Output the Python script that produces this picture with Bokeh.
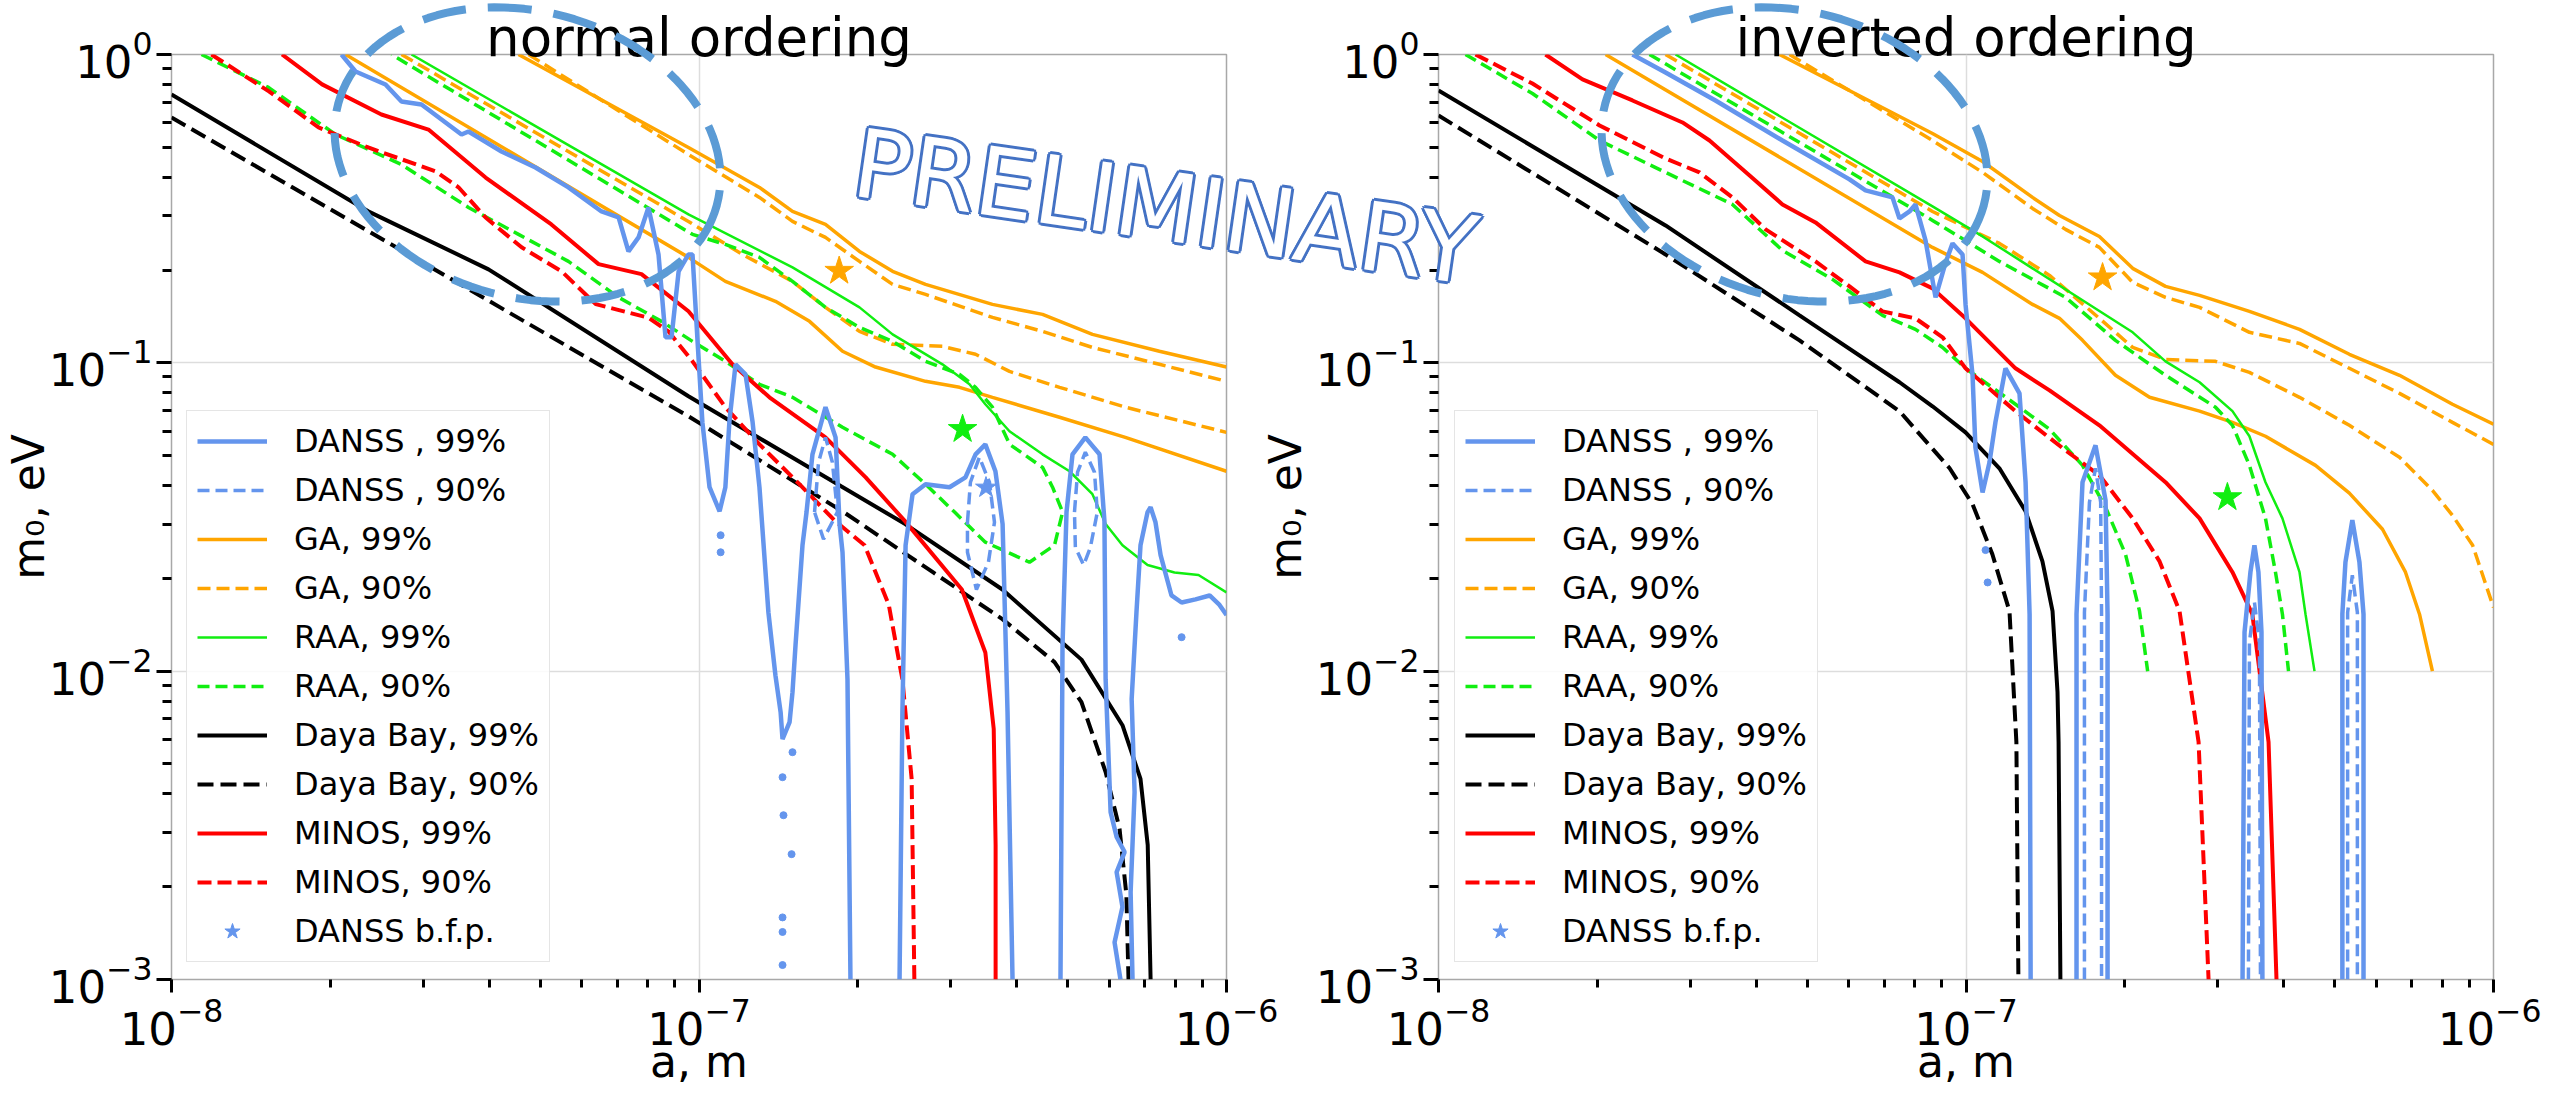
import math
from bokeh.plotting import figure
from bokeh.models import Range1d, FixedTicker, Label, PolyAnnotation, Legend, LegendItem
from bokeh.layouts import row, column
from bokeh.embed import file_html
from bokeh.resources import INLINE

# ------------------------------------------------------------------ data
# ---- normal ordering (left panel); a in m, m0 in eV
NO_DB99_a = [1.0e-8, 2.36e-8, 3.99e-8, 9.55e-8, 2.46e-7, 3.76e-7, 5.31e-7, 6.35e-7, 6.87e-7, 7.09e-7, 7.18e-7]
NO_DB99_m = [0.742, 0.310, 0.201, 0.0779, 0.0300, 0.0184, 0.0109, 0.00668, 0.00447, 0.00273, 0.001]
NO_DB90_a = [1.0e-8, 9.55e-8, 1.88e-7, 2.78e-7, 3.76e-7, 4.72e-7, 5.31e-7, 5.90e-7, 6.27e-7, 6.46e-7, 6.52e-7]
NO_DB90_m = [0.625, 0.0671, 0.0328, 0.0209, 0.01475, 0.0107, 0.00793, 0.00471, 0.00308, 0.00188, 0.001]
NO_MINOS99_a = [1.62e-8, 1.93e-8, 2.50e-8, 3.07e-8, 3.94e-8, 5.25e-8, 6.45e-8, 7.78e-8, 9.55e-8, 1.157e-7,
                1.36e-7, 1.737e-7, 2.07e-7, 2.46e-7, 3.15e-7, 3.49e-7, 3.62e-7, 3.65e-7, 3.65e-7]
NO_MINOS99_m = [1.0, 0.80, 0.639, 0.571, 0.399, 0.281, 0.209, 0.194, 0.147, 0.0989,
                0.0773, 0.0573, 0.0425, 0.0306, 0.0184, 0.0115, 0.0065, 0.00273, 0.001]
NO_MINOS90_a = [1.19e-8, 1.53e-8, 1.90e-8, 2.36e-8, 3.17e-8, 3.50e-8, 3.94e-8, 4.61e-8, 5.49e-8, 6.37e-8, 8.02e-8,
                8.75e-8, 9.72e-8, 1.122e-7, 1.302e-7, 1.55e-7, 1.815e-7, 2.06e-7, 2.29e-7, 2.43e-7, 2.53e-7, 2.56e-7]
NO_MINOS90_m = [1.0, 0.759, 0.580, 0.4995, 0.4175, 0.371, 0.296, 0.237, 0.198, 0.155, 0.140,
                0.1265, 0.1011, 0.0718, 0.0544, 0.0404, 0.0306, 0.0256, 0.0164, 0.0094, 0.00447, 0.001]
NO_RAA99_a = [2.851e-8, 9.55e-8, 1.504e-7, 2.015e-7, 2.328e-7, 2.894e-7, 3.257e-7, 3.49e-7, 3.878e-7, 4.48e-7,
              5.04e-7, 5.57e-7, 5.90e-7, 6.35e-7, 7.085e-7, 7.97e-7, 8.85e-7, 1.0e-6]
NO_RAA99_m = [1.0, 0.3029, 0.204, 0.1513, 0.1237, 0.0989, 0.0852, 0.0734, 0.060, 0.0505,
              0.0445, 0.0375, 0.0300, 0.0256, 0.0221, 0.0209, 0.0205, 0.0180]
NO_RAA90_a = [1.14e-8, 1.527e-8, 2.047e-8, 2.729e-8, 3.656e-8, 4.548e-8, 5.656e-8, 7.04e-8, 8.49e-8, 9.72e-8,
              1.122e-7, 1.302e-7, 1.504e-7, 1.871e-7, 2.328e-7, 2.688e-7, 3.051e-7, 3.49e-7, 4.232e-7, 4.72e-7,
              4.89e-7, 4.68e-7, 4.48e-7, 3.88e-7, 3.60e-7, 3.344e-7, 3.118e-7, 2.688e-7, 2.328e-7, 2.015e-7,
              1.737e-7, 1.504e-7, 1.302e-7, 1.122e-7, 9.72e-8, 2.613e-8]
NO_RAA90_m = [1.0, 0.782, 0.550, 0.4398, 0.319, 0.261, 0.2133, 0.1631, 0.1363, 0.1174,
              0.1011, 0.0852, 0.0773, 0.0618, 0.0505, 0.0404, 0.0328, 0.0262, 0.02256, 0.0256,
              0.0328, 0.0395, 0.0458, 0.0544, 0.0718, 0.0833, 0.0918, 0.1011, 0.1174, 0.1303,
              0.1513, 0.1837, 0.2198, 0.2421, 0.261, 1.0]
NO_GA99_lo_a = [2.138e-8, 9.55e-8, 1.122e-7, 1.396e-7, 1.62e-7, 1.871e-7, 2.161e-7, 2.688e-7, 3.118e-7, 3.60e-7,
                4.825e-7, 6.43e-7, 1.0e-6]
NO_GA99_lo_m = [1.0, 0.2198, 0.1837, 0.1583, 0.1363, 0.109, 0.0969, 0.0871, 0.0833, 0.0773, 0.0666, 0.0573, 0.0445]
NO_GA90_lo_a = [2.729e-8, 9.55e-8, 1.209e-7, 1.504e-7, 1.737e-7, 2.015e-7, 2.328e-7, 2.894e-7, 3.344e-7, 3.878e-7,
                4.825e-7, 6.43e-7, 1.0e-6]
NO_GA90_lo_m = [1.0, 0.2875, 0.2247, 0.1837, 0.1513, 0.1265, 0.1148, 0.1131, 0.1066, 0.0938, 0.0833, 0.0718, 0.0595]
NO_GA99_hi_a = [4.548e-8, 9.55e-8, 1.302e-7, 1.504e-7, 1.737e-7, 2.015e-7, 2.328e-7, 2.688e-7, 3.60e-7, 4.48e-7,
                5.57e-7, 7.46e-7, 1.0e-6]
NO_GA99_hi_m = [1.0, 0.4995, 0.3706, 0.3097, 0.2812, 0.2298, 0.198, 0.1797, 0.1547, 0.1436, 0.1237, 0.109, 0.0969]
NO_GA90_hi_a = [4.751e-8, 9.55e-8, 1.302e-7, 1.504e-7, 1.737e-7, 2.015e-7, 2.328e-7, 2.688e-7, 3.60e-7, 4.48e-7,
                5.57e-7, 7.46e-7, 1.0e-6]
NO_GA90_hi_m = [1.0, 0.474, 0.344, 0.2875, 0.2551, 0.2133, 0.1797, 0.1667, 0.1404, 0.1265, 0.1122, 0.0989, 0.0871]
# DANSS 99% contour pieces
NO_D99_p1_a = [2.10e-8, 2.233e-8, 2.545e-8, 2.729e-8, 2.978e-8, 3.547e-8, 3.656e-8, 4.223e-8, 4.898e-8, 5.656e-8,
               6.535e-8, 7.04e-8, 7.35e-8, 7.68e-8, 8.02e-8, 8.38e-8, 8.64e-8, 8.87e-8, 9.15e-8, 9.55e-8,
               9.72e-8, 9.94e-8, 1.015e-7, 1.047e-7, 1.094e-7, 1.122e-7, 1.142e-7, 1.173e-7, 1.225e-7, 1.263e-7,
               1.302e-7, 1.354e-7, 1.396e-7, 1.428e-7, 1.44e-7, 1.485e-7, 1.504e-7, 1.524e-7, 1.571e-7, 1.599e-7,
               1.641e-7, 1.737e-7, 1.815e-7, 1.847e-7, 1.871e-7, 1.912e-7, 1.937e-7]
NO_D99_p1_m = [1.0, 0.881, 0.7995, 0.704, 0.6887, 0.550, 0.5627, 0.4848, 0.4302, 0.3706,
               0.3097, 0.2962, 0.2298, 0.2551, 0.3191, 0.2247, 0.121, 0.121, 0.198, 0.2247,
               0.2247, 0.1165, 0.0641, 0.0395, 0.033, 0.0395, 0.0646, 0.0989, 0.0918, 0.0646,
               0.0395, 0.0155, 0.0097, 0.00736, 0.00602, 0.00684, 0.00855, 0.01214, 0.0256, 0.0328,
               0.0505, 0.0718, 0.0573, 0.0300, 0.0243, 0.00942, 0.001]
NO_D99_p2_a = [2.40e-7, 2.43e-7, 2.464e-7, 2.54e-7, 2.688e-7, 2.985e-7, 3.2e-7, 3.344e-7, 3.49e-7, 3.647e-7,
               3.763e-7, 3.845e-7, 3.93e-7]
NO_D99_p2_m = [0.001, 0.00736, 0.0256, 0.0375, 0.0404, 0.0395, 0.0425, 0.0505, 0.0544, 0.0445, 0.0300, 0.00736, 0.001]
NO_D99_p3_a = [4.845e-7, 4.888e-7, 4.974e-7, 5.106e-7, 5.40e-7, 5.745e-7, 5.87e-7, 5.90e-7, 6.03e-7, 6.19e-7,
               6.41e-7, 6.19e-7, 6.35e-7, 6.135e-7, 6.295e-7]
NO_D99_p3_m = [0.001, 0.01214, 0.0328, 0.0505, 0.0573, 0.0505, 0.0306, 0.00942, 0.00349, 0.0029,
               0.00259, 0.00223, 0.00172, 0.00132, 0.001]
NO_D99_p4_a = [6.635e-7, 6.58e-7, 6.695e-7, 6.61e-7, 6.75e-7, 6.87e-7, 7.085e-7, 7.18e-7, 7.335e-7, 7.50e-7,
               7.865e-7, 8.22e-7, 8.735e-7, 9.29e-7, 9.70e-7, 1.0e-6]
NO_D99_p4_m = [0.001, 0.00192, 0.00405, 0.00811, 0.0155, 0.0256, 0.0328, 0.034, 0.0304, 0.0238,
               0.0176, 0.0167, 0.0171, 0.0176, 0.0164, 0.0152]
# DANSS 90% contour lobes
NO_D90_A_a = [1.656e-7, 1.685e-7, 1.737e-7, 1.79e-7, 1.83e-7, 1.722e-7, 1.656e-7]
NO_D90_A_m = [0.0328, 0.0476, 0.0573, 0.0476, 0.0328, 0.0268, 0.0328]
NO_D90_B_a = [3.228e-7, 3.27e-7, 3.40e-7, 3.553e-7, 3.632e-7, 3.538e-7, 3.357e-7, 3.228e-7, 3.228e-7]
NO_D90_B_m = [0.0304, 0.041, 0.0494, 0.041, 0.0304, 0.0226, 0.0184, 0.0243, 0.0304]
NO_D90_C_a = [5.15e-7, 5.22e-7, 5.40e-7, 5.62e-7, 5.69e-7, 5.52e-7, 5.36e-7, 5.17e-7, 5.15e-7]
NO_D90_C_m = [0.0328, 0.0442, 0.0513, 0.0442, 0.0328, 0.0252, 0.0221, 0.0252, 0.0328]
# small DANSS islands
NO_isl_a = [1.099e-7, 1.099e-7, 1.504e-7, 1.44e-7, 1.446e-7, 1.498e-7, 1.44e-7, 1.44e-7, 1.44e-7, 8.22e-7]
NO_isl_m = [0.0276, 0.0243, 0.00546, 0.00453, 0.00341, 0.00255, 0.00159, 0.001426, 0.001114, 0.01289]
# best-fit points (GA, RAA) and DANSS best fit
NO_bfp_a = [1.844e-7, 3.16e-7]
NO_bfp_m = [0.1985, 0.0609]
NO_danss_bfp_a = [3.50e-7]
NO_danss_bfp_m = [0.0394]

# ---- inverted ordering (right panel)
IO_DB99_a = [1.0e-8, 2.694e-8, 4.835e-8, 7.48e-8, 8.64e-8, 9.98e-8, 1.157e-7, 1.297e-7, 1.396e-7, 1.459e-7,
             1.491e-7, 1.498e-7, 1.51e-7]
IO_DB99_m = [0.764, 0.279, 0.1426, 0.0865, 0.0723, 0.0595, 0.0455, 0.033, 0.0227, 0.01565, 0.00855, 0.00589, 0.001]
IO_DB90_a = [1.0e-8, 2.694e-8, 4.835e-8, 7.48e-8, 9.31e-8, 1.029e-7, 1.122e-7, 1.209e-7, 1.246e-7, 1.257e-7]
IO_DB90_m = [0.634, 0.2247, 0.1183, 0.0697, 0.0455, 0.0348, 0.02394, 0.01565, 0.00589, 0.001]
IO_MINOS99_a = [1.595e-8, 1.875e-8, 2.332e-8, 2.901e-8, 3.264e-8, 3.888e-8, 4.488e-8, 5.184e-8, 6.45e-8, 7.48e-8,
                8.64e-8, 9.98e-8, 1.241e-7, 1.44e-7, 1.79e-7, 2.389e-7, 2.772e-7, 3.2e-7, 3.49e-7, 3.746e-7, 3.878e-7]
IO_MINOS99_m = [1.0, 0.830, 0.7095, 0.602, 0.526, 0.4053, 0.3264, 0.2853, 0.2133, 0.1965,
                0.1744, 0.1394, 0.096, 0.0814, 0.0627, 0.041, 0.0313, 0.02094, 0.0153, 0.00589, 0.001]
IO_MINOS90_a = [1.175e-8, 1.507e-8, 2.02e-8, 2.694e-8, 3.124e-8, 3.608e-8, 4.169e-8, 5.184e-8, 6.014e-8, 6.946e-8,
                8.02e-8, 9.03e-8, 9.98e-8, 1.241e-7, 1.544e-7, 1.79e-7, 2.07e-7, 2.328e-7, 2.54e-7, 2.76e-7, 2.883e-7]
IO_MINOS90_m = [1.0, 0.805, 0.5886, 0.46, 0.4146, 0.344, 0.2709, 0.2133, 0.177, 0.1469,
                0.1394, 0.121, 0.096, 0.0697, 0.052, 0.0432, 0.0313, 0.0227, 0.01565, 0.00589, 0.001]
IO_RAA99_a = [2.814e-8, 8.64e-8, 1.075e-7, 1.337e-7, 1.663e-7, 2.07e-7, 2.389e-7, 2.772e-7, 3.2e-7, 3.446e-7,
              3.696e-7, 3.98e-7, 4.288e-7, 4.402e-7, 4.578e-7]
IO_RAA99_m = [1.0, 0.3216, 0.257, 0.2025, 0.1595, 0.1256, 0.1011, 0.0865, 0.0697, 0.0578,
              0.041, 0.0313, 0.02094, 0.0153, 0.01]
IO_RAA90_lo_a = [1.125e-8, 1.507e-8, 2.02e-8, 2.694e-8, 3.608e-8, 4.488e-8, 5.584e-8, 6.946e-8, 8.02e-8, 9.03e-8,
                 9.98e-8, 1.241e-7, 1.44e-7, 1.663e-7, 1.839e-7, 2.006e-7, 2.133e-7, 2.21e-7]
IO_RAA90_lo_m = [1.0, 0.7475, 0.526, 0.4146, 0.3264, 0.2315, 0.1865, 0.1426, 0.1284, 0.1122,
                 0.096, 0.0734, 0.0609, 0.0465, 0.034, 0.02394, 0.01565, 0.01]
IO_RAA90_hi_a = [2.512e-8, 8.64e-8, 1.157e-7, 1.544e-7, 1.92e-7, 2.389e-7, 2.972e-7, 3.2e-7, 3.446e-7, 3.696e-7,
                 3.861e-7, 3.98e-7, 4.087e-7]
IO_RAA90_hi_m = [1.0, 0.2897, 0.2133, 0.1631, 0.1183, 0.0911, 0.0718, 0.0627, 0.0465, 0.0313, 0.02094, 0.0153, 0.01]
IO_GA99_lo_a = [2.074e-8, 8.64e-8, 1.075e-7, 1.337e-7, 1.504e-7, 1.663e-7, 1.92e-7, 2.228e-7, 2.772e-7, 3.2e-7,
                3.696e-7, 4.598e-7, 5.33e-7, 6.16e-7, 6.81e-7, 7.24e-7, 7.66e-7]
IO_GA99_lo_m = [1.0, 0.2368, 0.1965, 0.1547, 0.1394, 0.1183, 0.0911, 0.0773, 0.0697, 0.0641,
                0.0578, 0.0465, 0.0378, 0.02886, 0.02094, 0.0153, 0.01]
IO_GA90_lo_a = [2.694e-8, 8.64e-8, 1.157e-7, 1.44e-7, 1.79e-7, 2.07e-7, 2.389e-7, 2.972e-7, 3.446e-7, 4.288e-7,
                5.33e-7, 6.635e-7, 7.66e-7, 8.36e-7, 9.13e-7, 1.0e-6]
IO_GA90_lo_m = [1.0, 0.3097, 0.244, 0.1921, 0.1394, 0.1122, 0.1026, 0.1011, 0.0931, 0.0773,
                0.0627, 0.0494, 0.0386, 0.032, 0.0256, 0.0161]
IO_GA99_hi_a = [4.43e-8, 8.64e-8, 1.075e-7, 1.337e-7, 1.504e-7, 1.79e-7, 2.07e-7, 2.389e-7, 2.772e-7, 3.446e-7,
                4.288e-7, 5.33e-7, 6.635e-7, 8.36e-7, 1.0e-6]
IO_GA99_hi_m = [1.0, 0.5546, 0.4498, 0.344, 0.3006, 0.257, 0.2025, 0.177, 0.1655, 0.1469,
                0.1284, 0.1066, 0.0911, 0.0734, 0.0632]
IO_GA90_hi_a = [4.628e-8, 8.64e-8, 1.075e-7, 1.337e-7, 1.544e-7, 1.79e-7, 2.07e-7, 2.389e-7, 2.772e-7, 3.446e-7,
                4.288e-7, 5.33e-7, 6.635e-7, 8.36e-7, 1.0e-6]
IO_GA90_hi_m = [1.0, 0.526, 0.4146, 0.3168, 0.2709, 0.2368, 0.1824, 0.1631, 0.1513, 0.1256,
                0.1156, 0.096, 0.0796, 0.0641, 0.0544]
IO_D99_p1_a = [2.332e-8, 2.694e-8, 3.35e-8, 4.488e-8, 6.014e-8, 6.45e-8, 7.255e-8, 7.48e-8, 7.815e-8, 8.02e-8,
               8.38e-8, 8.755e-8, 9.15e-8, 9.43e-8, 9.85e-8, 9.98e-8, 1.029e-7, 1.042e-7, 1.075e-7, 1.108e-7,
               1.137e-7, 1.188e-7, 1.263e-7, 1.297e-7, 1.32e-7, 1.326e-7]
IO_D99_p1_m = [1.0, 0.874, 0.7095, 0.526, 0.3934, 0.3624, 0.344, 0.294, 0.3097, 0.3264,
               0.2495, 0.1631, 0.2117, 0.244, 0.2247, 0.1547, 0.0911, 0.0532, 0.038, 0.0476,
               0.0641, 0.096, 0.0796, 0.041, 0.0153, 0.001]
IO_D99_l2_a = [1.62e-7, 1.62e-7, 1.663e-7, 1.76e-7, 1.839e-7, 1.855e-7, 1.855e-7]
IO_D99_l2_m = [0.001, 0.0153, 0.041, 0.054, 0.0358, 0.0153, 0.001]
IO_D99_l3_a = [3.344e-7, 3.373e-7, 3.461e-7, 3.522e-7, 3.584e-7, 3.632e-7, 3.647e-7]
IO_D99_l3_m = [0.001, 0.01338, 0.02094, 0.0256, 0.02094, 0.01338, 0.001]
IO_D99_l4_a = [5.17e-7, 5.17e-7, 5.24e-7, 5.40e-7, 5.57e-7, 5.67e-7, 5.67e-7]
IO_D99_l4_m = [0.001, 0.0153, 0.02256, 0.0309, 0.02256, 0.0153, 0.001]
IO_D90_l2_a = [1.677e-7, 1.677e-7, 1.714e-7, 1.76e-7, 1.80e-7, 1.807e-7, 1.807e-7]
IO_D90_l2_m = [0.001, 0.0155, 0.0353, 0.0455, 0.0353, 0.0155, 0.001]
IO_D90_l3_a = [3.431e-7, 3.446e-7, 3.522e-7, 3.60e-7, 3.616e-7]
IO_D90_l3_m = [0.001, 0.0124, 0.01674, 0.0124, 0.001]
IO_D90_l4_a = [5.29e-7, 5.29e-7, 5.40e-7, 5.52e-7, 5.52e-7]
IO_D90_l4_m = [0.001, 0.0155, 0.02047, 0.0155, 0.001]
IO_isl_a = [1.089e-7, 1.099e-7]
IO_isl_m = [0.0247, 0.0194]
IO_bfp_a = [1.815e-7, 3.13e-7]
IO_bfp_m = [0.189, 0.0366]
# DANSS best fit for this ordering lies below the plotted m0 range (not visible)
IO_danss_bfp_a = [5.4e-7]
IO_danss_bfp_m = [5.0e-4]

LEGEND_LABELS = ["DANSS , 99%", "DANSS , 90%", "GA, 99%", "GA, 90%", "RAA, 99%", "RAA, 90%",
                 "Daya Bay, 99%", "Daya Bay, 90%", "MINOS, 99%", "MINOS, 90%", "DANSS b.f.p."]
TITLES = ["normal ordering", "inverted ordering"]
X_LABEL = "a, m"
Y_LABEL = "m\u2080, eV"
STAMP = "PRELIMINARY"
X_MAJOR = [1e-8, 1e-7, 1e-6]
X_MINOR = [k * 10.0 ** e for e in (-8, -7) for k in range(2, 10)]
Y_MAJOR = [1e-3, 1e-2, 1e-1, 1.0]
Y_MINOR = [k * 10.0 ** e for e in (-3, -2, -1) for k in range(2, 10)]

# ------------------------------------------------------------------ style / layout
C_DANSS = "#6495ED"
C_GA = "#FFA500"
C_RAA = "#11EE11"
C_MINOS = "#FF0000"
C_DB = "#000000"
C_ELL = "#5B9BD5"
C_PRELIM = "#4472C4"
FONT = "DejaVu Sans"

FRAME_W, FRAME_H = 1055, 925
FIG_H = 1087               # page: 8 .. 1095 (layout pulled up by 8px so no scrollbar appears)
B_TOP = 54
B_BOTTOM = FIG_H - B_TOP - FRAME_H
W1, BL1 = 1279, 171
W2, BL2 = 1262, 159
FL1 = BL1                 # frame left, in canvas px of the overlay
FL2 = W1 + BL2
FRAME_CX = [FL1 + FRAME_W / 2, FL2 + FRAME_W / 2]


def make_fig(width, bl, br):
    p = figure(width=width, height=FIG_H, x_axis_type="log", y_axis_type="log",
               x_range=Range1d(1e-8, 1e-6), y_range=Range1d(1e-3, 1.0),
               output_backend="svg", toolbar_location=None,
               min_border_left=bl, min_border_right=br,
               min_border_top=B_TOP, min_border_bottom=B_BOTTOM)
    p.background_fill_color = "white"
    p.border_fill_color = "white"
    p.outline_line_color = "#a8a8a8"
    p.outline_line_width = 1.5
    xt = FixedTicker(ticks=X_MAJOR, minor_ticks=X_MINOR)
    yt = FixedTicker(ticks=Y_MAJOR, minor_ticks=Y_MINOR)
    p.xaxis.ticker = xt
    p.yaxis.ticker = yt
    p.xgrid.ticker = xt
    p.ygrid.ticker = yt
    p.grid.grid_line_color = "#dddddd"
    p.grid.grid_line_width = 1.5
    for ax in (p.xaxis[0], p.yaxis[0]):
        ax.axis_line_color = None
        ax.major_tick_line_width = 3
        ax.minor_tick_line_width = 3
        ax.major_tick_in = 0
        ax.minor_tick_in = 0
        ax.major_label_text_font = FONT
        ax.major_label_text_font_size = "45px"
        ax.major_label_text_color = "black"
    p.xaxis.major_tick_out = 13
    p.xaxis.minor_tick_out = 8
    p.yaxis.major_tick_out = 15
    p.yaxis.minor_tick_out = 9
    p.xaxis.major_label_standoff = 5
    p.yaxis.major_label_standoff = 4
    return p


def ln(p, a, m, color, width, dash="solid"):
    return p.line(a, m, line_color=color, line_width=width, line_dash=dash)


def legend(p, rs, loc):
    items = [LegendItem(label=lab, renderers=[r]) for lab, r in zip(LEGEND_LABELS, rs)]
    lg = Legend(items=items, location=loc, label_text_font=FONT, label_text_font_size="32px",
                label_text_color="black",
                glyph_width=70, glyph_height=40, label_height=40, spacing=9, padding=10, margin=0,
                label_standoff=27, border_line_color="#cccccc", border_line_width=1.5,
                background_fill_color="white", background_fill_alpha=0.85)
    p.add_layout(lg)


# ------------------------------------------------------------------ left panel
p1 = make_fig(W1, BL1, W1 - BL1 - FRAME_W)
r_ga99 = ln(p1, NO_GA99_lo_a, NO_GA99_lo_m, C_GA, 3.5)
ln(p1, NO_GA99_hi_a, NO_GA99_hi_m, C_GA, 3.5)
r_ga90 = ln(p1, NO_GA90_lo_a, NO_GA90_lo_m, C_GA, 3.5, "13 6")
ln(p1, NO_GA90_hi_a, NO_GA90_hi_m, C_GA, 3.5, "13 6")
r_raa99 = ln(p1, NO_RAA99_a, NO_RAA99_m, C_RAA, 2.5)
r_raa90 = ln(p1, NO_RAA90_a, NO_RAA90_m, C_RAA, 3.5, "12 6")
r_db99 = ln(p1, NO_DB99_a, NO_DB99_m, C_DB, 4)
r_db90 = ln(p1, NO_DB90_a, NO_DB90_m, C_DB, 4, "16 7")
r_mi99 = ln(p1, NO_MINOS99_a, NO_MINOS99_m, C_MINOS, 4)
r_mi90 = ln(p1, NO_MINOS90_a, NO_MINOS90_m, C_MINOS, 4, "14 6")
r_d99 = ln(p1, NO_D99_p1_a, NO_D99_p1_m, C_DANSS, 4.5)
for a_, m_ in ((NO_D99_p2_a, NO_D99_p2_m), (NO_D99_p3_a, NO_D99_p3_m), (NO_D99_p4_a, NO_D99_p4_m)):
    ln(p1, a_, m_, C_DANSS, 4.5)
r_d90 = ln(p1, NO_D90_A_a, NO_D90_A_m, C_DANSS, 3.5, "12 6")
for a_, m_ in ((NO_D90_B_a, NO_D90_B_m), (NO_D90_C_a, NO_D90_C_m)):
    ln(p1, a_, m_, C_DANSS, 3.5, "12 6")
p1.scatter(NO_isl_a, NO_isl_m, marker="circle", size=7, fill_color=C_DANSS, line_color=C_DANSS)
p1.scatter(NO_bfp_a, NO_bfp_m, marker="star", size=30, fill_color=[C_GA, C_RAA], line_color=[C_GA, C_RAA])
r_bfp1 = p1.scatter(NO_danss_bfp_a, NO_danss_bfp_m, marker="star", size=22,
                    fill_color=C_DANSS, line_color=C_DANSS)
legend(p1, [r_d99, r_d90, r_ga99, r_ga90, r_raa99, r_raa90, r_db99, r_db90, r_mi99, r_mi90, r_bfp1], (15, 17))

# ------------------------------------------------------------------ right panel
p2 = make_fig(W2, BL2, W2 - BL2 - FRAME_W)
q_ga99 = ln(p2, IO_GA99_lo_a, IO_GA99_lo_m, C_GA, 3.5)
ln(p2, IO_GA99_hi_a, IO_GA99_hi_m, C_GA, 3.5)
q_ga90 = ln(p2, IO_GA90_lo_a, IO_GA90_lo_m, C_GA, 3.5, "13 6")
ln(p2, IO_GA90_hi_a, IO_GA90_hi_m, C_GA, 3.5, "13 6")
q_raa99 = ln(p2, IO_RAA99_a, IO_RAA99_m, C_RAA, 2.5)
q_raa90 = ln(p2, IO_RAA90_lo_a, IO_RAA90_lo_m, C_RAA, 3.5, "12 6")
ln(p2, IO_RAA90_hi_a, IO_RAA90_hi_m, C_RAA, 3.5, "12 6")
q_db99 = ln(p2, IO_DB99_a, IO_DB99_m, C_DB, 4)
q_db90 = ln(p2, IO_DB90_a, IO_DB90_m, C_DB, 4, "16 7")
q_mi99 = ln(p2, IO_MINOS99_a, IO_MINOS99_m, C_MINOS, 4)
q_mi90 = ln(p2, IO_MINOS90_a, IO_MINOS90_m, C_MINOS, 4, "14 6")
q_d99 = ln(p2, IO_D99_p1_a, IO_D99_p1_m, C_DANSS, 4.5)
for a_, m_ in ((IO_D99_l2_a, IO_D99_l2_m), (IO_D99_l3_a, IO_D99_l3_m), (IO_D99_l4_a, IO_D99_l4_m)):
    ln(p2, a_, m_, C_DANSS, 4.5)
q_d90 = ln(p2, IO_D90_l2_a, IO_D90_l2_m, C_DANSS, 3.5, "12 6")
for a_, m_ in ((IO_D90_l3_a, IO_D90_l3_m), (IO_D90_l4_a, IO_D90_l4_m)):
    ln(p2, a_, m_, C_DANSS, 3.5, "12 6")
p2.scatter(IO_isl_a, IO_isl_m, marker="circle", size=7, fill_color=C_DANSS, line_color=C_DANSS)
p2.scatter(IO_bfp_a, IO_bfp_m, marker="star", size=30, fill_color=[C_GA, C_RAA], line_color=[C_GA, C_RAA])
q_bfp = p2.scatter(IO_danss_bfp_a, IO_danss_bfp_m, marker="star", size=22,
                   fill_color=C_DANSS, line_color=C_DANSS)
legend(p2, [q_d99, q_d90, q_ga99, q_ga90, q_raa99, q_raa90, q_db99, q_db90, q_mi99, q_mi90, q_bfp], (16, 17))

# ------------------------------------------------------------------ overlay (titles, axis titles, stamp)
OV_W = W1 + W2
ov = figure(width=OV_W, height=FIG_H, x_range=Range1d(0, OV_W), y_range=Range1d(FIG_H, 0),
            x_axis_type=None, y_axis_type=None, output_backend="svg", toolbar_location=None,
            min_border=0)
ov.outline_line_color = None
ov.background_fill_color = None
ov.border_fill_color = None
ov.styles = {"margin-top": "-%dpx" % FIG_H}

for cx, title in zip(FRAME_CX, TITLES):
    ov.add_layout(Label(x=cx, y=B_TOP - 17, text=title, text_font=FONT, text_font_size="53px",
                        text_align="center", text_baseline="alphabetic", text_color="black"))
    ov.add_layout(Label(x=cx, y=FIG_H - 26, text=X_LABEL, text_font=FONT, text_font_size="44px",
                        text_align="center", text_baseline="alphabetic", text_color="black"))
for yx in (28, W1 + 6):
    ov.add_layout(Label(x=yx, y=B_TOP + FRAME_H / 2 - 10, text=Y_LABEL, text_font=FONT,
                        text_font_size="44px", angle=math.pi / 2, text_align="center",
                        text_baseline="middle", text_color="black"))

# dashed ellipses highlighting the upper-left region of each panel
for fl in (FL1, FL2):
    cx, cy = fl + 356, 154
    A, B, phi = 196.0, 143.0, math.radians(15)
    xs, ys = [], []
    for i in range(121):
        t = 2 * math.pi * i / 120
        x0, y0 = A * math.cos(t), B * math.sin(t)
        xs.append(cx + x0 * math.cos(phi) - y0 * math.sin(phi))
        ys.append(cy + x0 * math.sin(phi) + y0 * math.cos(phi))
    ov.add_layout(PolyAnnotation(xs=xs, ys=ys, fill_color=None, fill_alpha=0, line_alpha=1.0,
                                 line_color=C_ELL, line_width=8, line_dash="44 22"))

# outlined "PRELIMINARY" stamp
ang = -math.radians(8.2)
sx, sy = 854, 162
for dx, dy in [(-3, 0), (3, 0), (0, -3), (0, 3), (-2, -2), (2, 2), (-2, 2), (2, -2)]:
    ov.add_layout(Label(x=sx, y=sy, x_offset=dx, y_offset=dy, text=STAMP, text_font=FONT,
                        text_font_size="95px", text_color=C_PRELIM, angle=ang,
                        text_align="left", text_baseline="alphabetic"))
ov.add_layout(Label(x=sx, y=sy, text=STAMP, text_font=FONT, text_font_size="95px",
                    text_color="white", angle=ang, text_align="left", text_baseline="alphabetic"))

layout = column(row(p1, p2), ov)
layout.styles = {"margin-bottom": "-8px"}
open("out.html", "w").write(file_html(layout, INLINE))
